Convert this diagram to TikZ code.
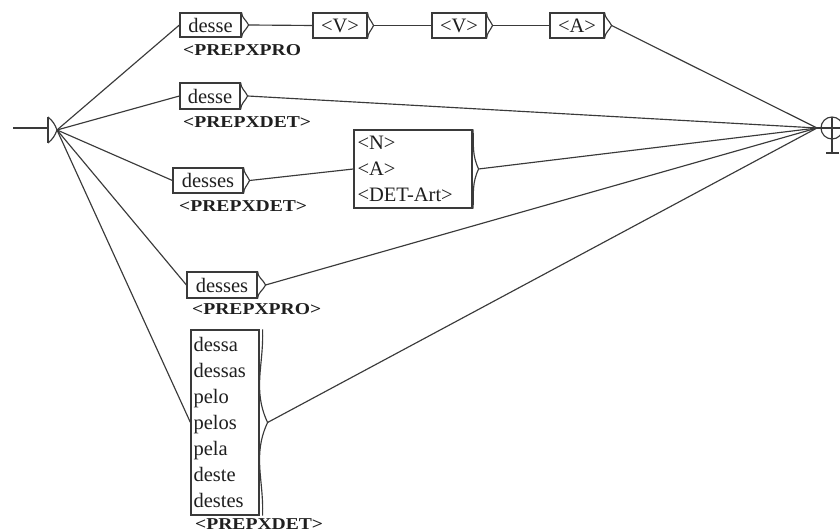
\documentclass[tikz,border=0pt]{standalone}
\usepackage{fontspec}
\setmainfont{Liberation Serif}
\newfontfamily\lblfont[FakeStretch=1.18]{Liberation Serif Bold}
\usetikzlibrary{calc}
\definecolor{ink}{HTML}{3A3A3A}
\tikzset{
  ln/.style={draw=ink, line width=1.15pt},
  gbox/.style={draw=ink, line width=1.15pt, inner sep=0pt, font=\fontsize{20.5}{26}\selectfont, text=black!88},
  lbl/.style={inner sep=0pt, anchor=base west, font=\lblfont\fontsize{16.6}{18}\selectfont, text=black!88},
}
\newcommand\boxflap[3]{% node, x offset of bracket, point distance
  \coordinate (#1-o) at ([xshift=#3pt]#1.east);
  \draw[ln] ([xshift=#2pt]#1.north east) to[out=-88,in=115] (#1-o) to[out=-115,in=88] ([xshift=#2pt]#1.south east);
}
\begin{document}
\begin{tikzpicture}[x=1pt,y=1pt]
\useasboundingbox (0,0) rectangle (840,532);
\fill[white] (0,0) rectangle (840,532);
% start node
\coordinate (s) at (57,402);
\coordinate (sin) at (13,404);
\coordinate (sbar) at (48,404);
\draw[ink, line width=2.2pt] (sin) -- (27,404);
\draw[ln] (27,404) -- (sbar);
\draw[ink, line width=1.6pt] (48,415) -- (48,389);
\draw[ln] (48,415) to[out=-40,in=110] (s) to[out=-110,in=40] (48,389);
% end node
\coordinate (e) at (817,404);
\draw[ln] (832,404) circle (11);
\draw[ln] (e) -- (840,404);
\draw[ln] (832,415) -- (832,379);
\draw[ln] (826,379) -- (839,379);
% boxes
\node[gbox, minimum width=61pt, minimum height=24pt] (b1) at (210.5,507) {desse};
\node[gbox, minimum width=54pt, minimum height=25pt] (v1) at (340,506.5) {<V>};
\node[gbox, minimum width=54pt, minimum height=25pt] (v2) at (459,506.5) {<V>};
\node[gbox, minimum width=54pt, minimum height=25pt] (a1) at (577,506.5) {<A>};
\node[gbox, minimum width=60pt, minimum height=26pt] (b2) at (210,436) {desse};
\node[gbox, minimum width=70pt, minimum height=25pt] (b3) at (208,351.5) {desses};
\node[gbox, minimum height=78pt, text width=111pt, inner xsep=3.5pt, align=left] (big) at (413,363) {<N>\\<A>\\<DET-Art>};
\node[gbox, minimum width=70pt, minimum height=26pt] (b4) at (222,247) {desses};
\node[gbox, minimum height=185pt, text width=63pt, inner xsep=2.5pt, align=left] (b5) at (225,109.5) {dessa\\dessas\\pelo\\pelos\\pela\\deste\\destes};
% flaps
\boxflap{b1}{0}{7}
\boxflap{v1}{0}{6}
\boxflap{v2}{0}{6}
\boxflap{a1}{0}{7}
\boxflap{b2}{0}{7}
\boxflap{b3}{0}{6}
\boxflap{big}{0.5}{6}
\boxflap{b4}{0}{8}
\boxflap{b5}{3}{8}
% labels
\node[lbl] (l1) at (183,476) {<PREPXPRO};
\node[lbl] (l2) at (183,404) {<PREPXDET>};
\node[lbl] (l3) at (179,320) {<PREPXDET>};
\node[lbl] (l4) at (192,217) {<PREPXPRO>};
\node[lbl] (l5) at (195,2) {<PREPXDET>};
% connectors
\draw[ln] (s) -- (b1.west);
\draw[ln] (s) -- (b2.west);
\draw[ln] (s) -- (b3.west);
\draw[ln] (s) -- (b4.west);
\draw[ln] (s) -- (b5.west);
\draw[ln] (b1-o) -- (v1.west);
\draw[ln] (v1-o) -- (v2.west);
\draw[ln] (v2-o) -- (a1.west);
\draw[ln] (a1-o) -- (e);
\draw[ln] (b2-o) -- (e);
\draw[ln] (b3-o) -- (big.west);
\draw[ln] (big-o) -- (e);
\draw[ln] (b4-o) -- (e);
\draw[ln] (b5-o) -- (e);
\end{tikzpicture}
\end{document}
